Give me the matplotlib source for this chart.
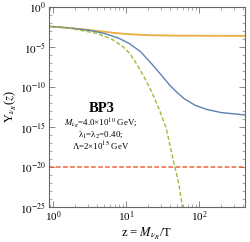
import numpy as np
import matplotlib
matplotlib.use("Agg")
import matplotlib.pyplot as plt
from matplotlib.ticker import LogLocator, FixedLocator, NullFormatter

plt.rcParams["font.family"] = ["Liberation Serif", "DejaVu Serif"]
plt.rcParams["mathtext.fontset"] = "stix"

# ---------- data (log10 z, log10 Y) ----------
orange_lz = [-0.06, 0.2, 0.5, 0.8, 1.0, 1.3, 1.7, 2.2, 2.63]
orange_ly = [-2.42, -2.6, -2.87, -3.2, -3.38, -3.52, -3.58, -3.6, -3.61]

blue_lz = [-0.06, 0.2, 0.5, 0.7, 0.9, 1.05, 1.2, 1.35, 1.5, 1.6, 1.7, 1.8, 1.95, 2.1, 2.3, 2.63]
blue_ly = [-2.42, -2.6, -2.92, -3.3, -3.9, -4.6, -5.6, -7.1, -8.7, -9.8, -10.7, -11.5, -12.3, -12.8, -13.2, -13.5]

green_lz = [-0.06, 0.2, 0.4, 0.6, 0.8, 0.95, 1.05, 1.15, 1.25, 1.35, 1.45, 1.55, 1.65, 1.72, 1.78]
green_ly = [-2.42, -2.62, -2.95, -3.3, -4.0, -4.9, -5.8, -7.2, -8.8, -10.6, -12.7, -15.2, -19.3, -22.0, -25.5]

eq_level = 1e-20

x_lim = (0.88, 425)
y_lim = (1e-25, 1)
y_major = [1e0, 1e-5, 1e-10, 1e-15, 1e-20, 1e-25]
y_labels = [r"$10^{0}$", r"$10^{-5}$", r"$10^{-10}$", r"$10^{-15}$", r"$10^{-20}$", r"$10^{-25}$"]


def p10(a):
    return 10.0 ** np.asarray(a)


fig = plt.figure(figsize=(2.50, 2.42), dpi=100)
ax = fig.add_axes([0.196, 0.145, 0.784, 0.826])

ax.plot(p10(orange_lz), p10(orange_ly), color="#E69F1E", lw=1.3, alpha=0.85)
ax.plot(p10(blue_lz), p10(blue_ly), color="#5E81B5", lw=1.0)
ax.plot(p10(green_lz), p10(green_ly), color="#9BBB3A", lw=1.0, dashes=(3, 1.6))
ax.axhline(eq_level, color="#F0643A", lw=1.1, dashes=(3, 1.6))

ax.set_xscale("log")
ax.set_yscale("log")
ax.set_xlim(*x_lim)
ax.set_ylim(*y_lim)

ax.xaxis.set_major_locator(LogLocator(base=10, numticks=10))
ax.xaxis.set_minor_locator(LogLocator(base=10, subs=np.arange(2, 10), numticks=10))
ax.xaxis.set_minor_formatter(NullFormatter())
ax.set_yticks(y_major)
ax.set_yticklabels(y_labels)
ax.yaxis.set_minor_locator(FixedLocator([10.0 ** -k for k in range(26)]))
ax.yaxis.set_minor_formatter(NullFormatter())

for sp in ax.spines.values():
    sp.set_color("#666666")
    sp.set_linewidth(0.8)
ax.tick_params(which="both", direction="in", top=True, right=True, color="#888888",
               labelsize=8, pad=2)
ax.tick_params(which="major", length=4, width=0.7)
ax.tick_params(which="minor", length=2, width=0.5)

ax.set_xlabel(r"z = $M_{\nu_R}$/T", fontsize=9, labelpad=1)
ax.set_ylabel(r"Y$_{\nu_R}$($z$)", fontsize=9, labelpad=1)

ax.text(0.27, 0.49, "BP3", transform=ax.transAxes, ha="center", va="center",
        fontsize=10.5, fontweight="bold")
ax.text(0.265, 0.415, r"$M_{\nu_R}$=4.0×10$^{10}$ GeV;", transform=ax.transAxes,
        ha="center", va="center", fontsize=6.4)
ax.text(0.265, 0.36, r"λ$_1$=λ$_2$=0.40;", transform=ax.transAxes,
        ha="center", va="center", fontsize=6.4)
ax.text(0.265, 0.305, r"Λ=2×10$^{15}$ GeV", transform=ax.transAxes,
        ha="center", va="center", fontsize=6.4)

fig.savefig("out.png", dpi=100)
